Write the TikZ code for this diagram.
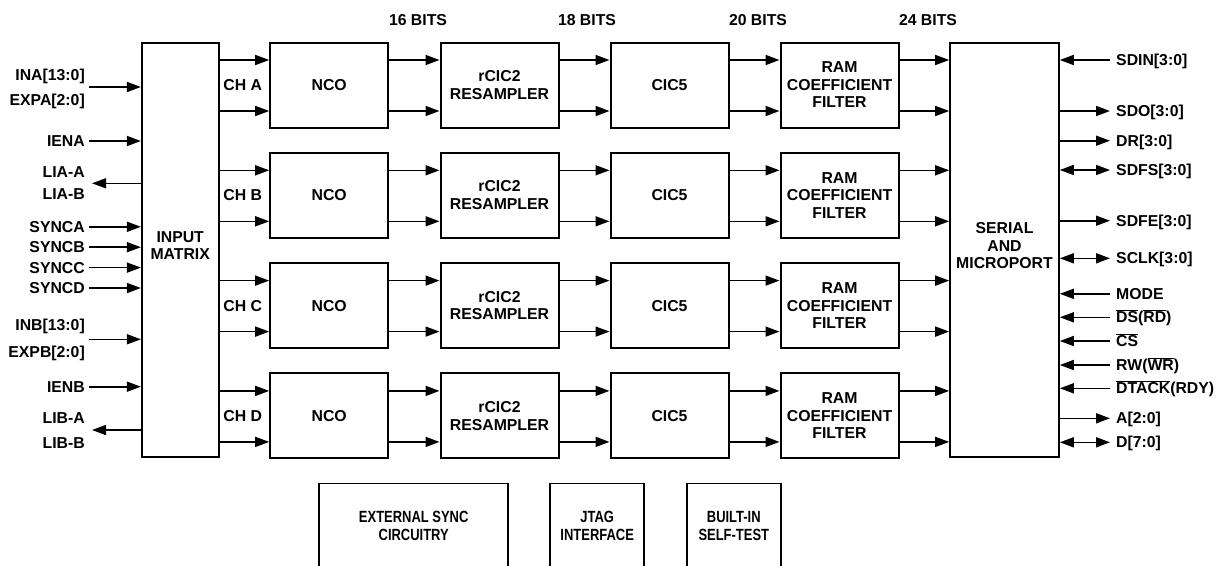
\documentclass[tikz,border=0pt]{standalone}
\usepackage{fontspec}
\setmainfont{Liberation Sans}
\newfontfamily\narrowsans{Liberation Sans}[FakeStretch=0.8]
\usetikzlibrary{arrows.meta,positioning}

\begin{document}
\begin{tikzpicture}[
  x=1pt, y=-1pt,
  every node/.style={font=\fontsize{15.8}{17.5}\selectfont\bfseries},
  myblock/.style={
    draw,
    line width=2pt,
    minimum width=118pt,
    minimum height=85pt,
    inner sep=2pt,
    align=center
    },
  mybig/.style={draw, line width=1.6pt, minimum height=414pt, inner sep=0pt},
  mybottom/.style={
    draw,
    line width=1.8pt,
    minimum height=85pt,
    align=center,
    font=\fontsize{16.2}{17.8}\selectfont\bfseries\narrowsans
    },
  mysig/.style={inner sep=0pt, text height=11.3pt, text depth=0pt},
  mychan/.style={inner sep=0pt},
  myarrow/.style={line width=1.6pt, -{Triangle[length=14pt,width=10pt]}},
  mybiarrow/.style={line width=1.6pt, {Triangle[length=14pt,width=10pt]}-{Triangle[length=14pt,width=10pt]}}
]
\useasboundingbox (0,0) rectangle (1218,565);

% input matrix and serial port
\node [mybig, minimum width=77pt,
  label={[align=center, yshift=4pt]center:INPUT\\MATRIX}] (imx) at (180.2,249.7) {};
\node [mybig, minimum width=109pt,
  label={[align=center, yshift=4pt]center:SERIAL\\AND\\MICROPORT}] (srl) at (1004.5,249.7) {};

% four channels
\node [myblock] (ncoA) at (329.2,85) {NCO};
\node [myblock] (ricA) at (499.5,85) {rCIC2\\RESAMPLER};
\node [myblock] (cicA) at (669.5,85) {CIC5};
\node [myblock] (ramA) at (839.5,85) {RAM\\COEFFICIENT\\FILTER};
\node [mychan, left=7pt of ncoA] (chA) {CH A};

\node [myblock] (ncoB) at (329.2,195.3) {NCO};
\node [myblock] (ricB) at (499.5,195.3) {rCIC2\\RESAMPLER};
\node [myblock] (cicB) at (669.5,195.3) {CIC5};
\node [myblock] (ramB) at (839.5,195.3) {RAM\\COEFFICIENT\\FILTER};
\node [mychan, left=7pt of ncoB] (chB) {CH B};

\node [myblock] (ncoC) at (329.2,305.6) {NCO};
\node [myblock] (ricC) at (499.5,305.6) {rCIC2\\RESAMPLER};
\node [myblock] (cicC) at (669.5,305.6) {CIC5};
\node [myblock] (ramC) at (839.5,305.6) {RAM\\COEFFICIENT\\FILTER};
\node [mychan, left=7pt of ncoC] (chC) {CH C};

\node [myblock] (ncoD) at (329.2,415.9) {NCO};
\node [myblock] (ricD) at (499.5,415.9) {rCIC2\\RESAMPLER};
\node [myblock] (cicD) at (669.5,415.9) {CIC5};
\node [myblock] (ramD) at (839.5,415.9) {RAM\\COEFFICIENT\\FILTER};
\node [mychan, left=7pt of ncoD] (chD) {CH D};

\foreach \c in {A,B,C,D} {
  \foreach \s in {25,-26} {
    \draw [myarrow] ([yshift=\s pt]imx.east |- nco\c) -- ([yshift=\s pt]nco\c.west);
    \draw [myarrow] ([yshift=\s pt]nco\c.east) -- ([yshift=\s pt]ric\c.west);
    \draw [myarrow] ([yshift=\s pt]ric\c.east) -- ([yshift=\s pt]cic\c.west);
    \draw [myarrow] ([yshift=\s pt]cic\c.east) -- ([yshift=\s pt]ram\c.west);
    \draw [myarrow] ([yshift=\s pt]ram\c.east) -- ([yshift=\s pt]srl.west |- ram\c);
  }
}

% word widths
\node (b16) at (418,20) {16 BITS};
\node (b18) at (587,20) {18 BITS};
\node (b20) at (758,20) {20 BITS};
\node (b24) at (928,20) {24 BITS};

% left side signals
\node [mysig, anchor=east] (ina) at (85,75) {INA[13:0]};
\node [mysig, anchor=east] (expa) at (85,100) {EXPA[2:0]};
\coordinate (inaport) at (89,87);
\draw [myarrow] (inaport) -- (inaport -| imx.west);
\node [mysig, anchor=east] (iena) at (85,141) {IENA};
\draw [myarrow] ([xshift=4pt]iena.east) -- (iena.east -| imx.west);
\node [mysig, anchor=east] (liaa) at (85,171.7) {LIA-A};
\node [mysig, anchor=east] (liab) at (85,194.3) {LIA-B};
\coordinate (liaport) at (92,183.3);
\draw [myarrow] (liaport -| imx.west) -- (liaport);
\node [mysig, anchor=east] (synca) at (85,226.8) {SYNCA};
\node [mysig, anchor=east] (syncb) at (85,247.2) {SYNCB};
\node [mysig, anchor=east] (syncc) at (85,267.6) {SYNCC};
\node [mysig, anchor=east] (syncd) at (85,288) {SYNCD};
\draw [myarrow] ([xshift=4pt]synca.east) -- (synca.east -| imx.west);
\draw [myarrow] ([xshift=4pt]syncb.east) -- (syncb.east -| imx.west);
\draw [myarrow] ([xshift=4pt]syncc.east) -- (syncc.east -| imx.west);
\draw [myarrow] ([xshift=4pt]syncd.east) -- (syncd.east -| imx.west);
\node [mysig, anchor=east] (inb) at (85,325) {INB[13:0]};
\node [mysig, anchor=east] (expb) at (85,351.7) {EXPB[2:0]};
\coordinate (inbport) at (89,339.3);
\draw [myarrow] (inbport) -- (inbport -| imx.west);
\node [mysig, anchor=east] (ienb) at (85,386.7) {IENB};
\draw [myarrow] ([xshift=4pt]ienb.east) -- (ienb.east -| imx.west);
\node [mysig, anchor=east] (liba) at (85,418.3) {LIB-A};
\node [mysig, anchor=east] (libb) at (85,442.7) {LIB-B};
\coordinate (libport) at (92,430);
\draw [myarrow] (libport -| imx.west) -- (libport);

% right side signals
\node [mysig, anchor=west] (sdin) at (1116,60) {SDIN[3:0]};
\node [mysig, anchor=west] (sdo) at (1116,111) {SDO[3:0]};
\node [mysig, anchor=west] (dr) at (1116,140.7) {DR[3:0]};
\node [mysig, anchor=west] (sdfs) at (1116,170) {SDFS[3:0]};
\node [mysig, anchor=west] (sdfe) at (1116,220.7) {SDFE[3:0]};
\node [mysig, anchor=west] (sclk) at (1116,258.3) {SCLK[3:0]};
\node [mysig, anchor=west] (mode) at (1116,293.8) {MODE};
\node [mysig, anchor=west] (ds) at (1116,317.3) {\(\overline{\hbox{DS}}\)(\(\overline{\hbox{RD}}\))};
\node [mysig, anchor=west] (cs) at (1116,341) {\(\overline{\hbox{CS}}\)};
\node [mysig, anchor=west] (rw) at (1116,365) {RW(\(\overline{\hbox{WR}}\))};
\node [mysig, anchor=west] (dtack) at (1116,388.3) {\(\overline{\hbox{DTACK}}\)(RDY)};
\node [mysig, anchor=west] (addr) at (1116,418.3) {A[2:0]};
\node [mysig, anchor=west] (data) at (1116,442.3) {D[7:0]};

\draw [myarrow] ([xshift=-6pt]sdin.west) -- (sdin.west -| srl.east);
\draw [myarrow] (sdo.west -| srl.east) -- ([xshift=-6pt]sdo.west);
\draw [myarrow] (dr.west -| srl.east) -- ([xshift=-6pt]dr.west);
\draw [mybiarrow] (sdfs.west -| srl.east) -- ([xshift=-6pt]sdfs.west);
\draw [myarrow] (sdfe.west -| srl.east) -- ([xshift=-6pt]sdfe.west);
\draw [mybiarrow] (sclk.west -| srl.east) -- ([xshift=-6pt]sclk.west);
\draw [myarrow] ([xshift=-6pt]mode.west) -- (mode.west -| srl.east);
\draw [myarrow] ([xshift=-6pt]ds.west) -- (ds.west -| srl.east);
\draw [myarrow] ([xshift=-6pt]cs.west) -- (cs.west -| srl.east);
\draw [myarrow] ([xshift=-6pt]rw.west) -- (rw.west -| srl.east);
\draw [myarrow] ([xshift=-6pt]dtack.west) -- (dtack.west -| srl.east);
\draw [myarrow] (addr.west -| srl.east) -- ([xshift=-6pt]addr.west);
\draw [mybiarrow] (data.west -| srl.east) -- ([xshift=-6pt]data.west);

% support blocks
\node [mybottom, minimum width=189.3pt] (ext) at (413.7,526) {EXTERNAL SYNC\\CIRCUITRY};
\node [mybottom, minimum width=94.3pt] (jtag) at (597.2,526) {JTAG\\INTERFACE};
\node [mybottom, minimum width=94.3pt] (bist) at (733.8,526) {BUILT-IN\\SELF-TEST};

\end{tikzpicture}
\end{document}
